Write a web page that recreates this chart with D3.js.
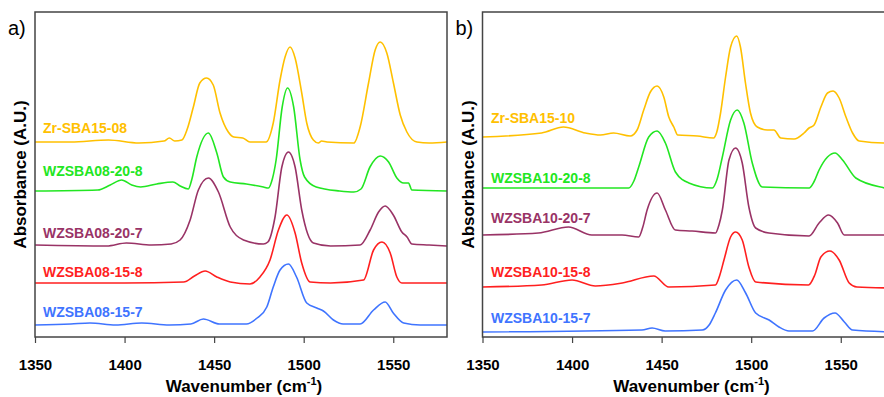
<!DOCTYPE html>
<html>
<head>
<meta charset="utf-8">
<script src="https://cdn.jsdelivr.net/npm/d3@7"></script>
<style>
  body { margin: 0; background: #fff; }
  svg { display: block; }
</style>
</head>
<body>
<svg id="chart" width="884" height="397"></svg>
<script>
// wavenumber ticks shared by both panels
const wnTicks = [1350, 1400, 1450, 1500, 1550];
const wnDomain = [1350, 1580];

// panel a) — [wavenumber, absorbance (offset, A.U.)]
const namesA = ['Zr-SBA15-08', 'WZSBA08-20-8', 'WZSBA08-20-7', 'WZSBA08-15-8', 'WZSBA08-15-7'];

const zrSBA1508 = [[1350,1.95],[1370,1.95],[1391,1.97],[1408,1.94],[1422,1.96],[1425,1.99],[1428,1.96],[1432,1.97],
  [1435,2.08],[1438.4,2.30],[1442,2.54],[1445.8,2.59],[1449.5,2.52],[1453.3,2.24],[1457.9,2.05],[1461,2.00],[1466,1.99],
  [1470,1.95],[1479,1.95],[1483,2.14],[1486.8,2.57],[1489.6,2.80],[1492.4,2.90],[1495.2,2.79],[1498.9,2.44],
  [1501.7,2.14],[1505.4,1.97],[1508.2,1.94],[1510,1.96],[1513,1.95],[1528,1.94],[1531.5,2.10],[1536.2,2.54],
  [1539.9,2.87],[1542.7,2.95],[1546.4,2.84],[1550.1,2.54],[1553.9,2.22],[1557.6,2.05],[1563.2,1.95],[1570,1.94],[1580,1.95]];

const wzsba08_20_8 = [[1350,1.46],[1385,1.47],[1392,1.52],[1398.4,1.57],[1404,1.52],[1409,1.50],[1418,1.53],[1427,1.55],
  [1431,1.51],[1435.6,1.48],[1437.6,1.58],[1440.3,1.80],[1446.8,2.04],[1451.5,1.84],[1455.2,1.60],[1459,1.55],[1468,1.53],
  [1477.5,1.50],[1480.3,1.49],[1482.5,1.58],[1484.6,1.77],[1488,2.30],[1491,2.49],[1494.4,2.30],[1498,1.77],[1500.5,1.60],
  [1507,1.50],[1520,1.46],[1528,1.45],[1532,1.48],[1537,1.70],[1542.7,1.81],[1547.4,1.75],[1552,1.59],[1555.8,1.54],
  [1558.5,1.54],[1560.4,1.47],[1580,1.46]];

const wzsba08_20_7 = [[1350,0.92],[1390,0.91],[1401,0.94],[1415,0.92],[1426,0.93],[1431,0.97],[1436.6,1.17],[1441.2,1.47],
  [1446.8,1.59],[1452.4,1.45],[1459,1.10],[1466.4,0.97],[1477.5,0.93],[1480,0.95],[1484,1.20],[1487.8,1.70],[1491.5,1.85],
  [1495.2,1.70],[1498.9,1.27],[1505.4,0.94],[1515,0.91],[1531.5,0.92],[1537.1,1.07],[1541.8,1.25],[1545.5,1.31],[1550,1.22],
  [1554.8,1.05],[1557.7,1.00],[1560.4,0.93],[1570,0.92],[1580,0.91]];

const wzsba08_15_8 = [[1350,0.54],[1400,0.54],[1433,0.55],[1439,0.61],[1445,0.66],[1451.5,0.60],[1459,0.55],[1470,0.53],
  [1475.6,0.60],[1481.2,0.77],[1485.9,1.07],[1490.6,1.22],[1495.2,1.04],[1498.9,0.74],[1503.6,0.55],[1515,0.54],
  [1533.4,0.57],[1539,0.87],[1543.7,0.95],[1548.3,0.84],[1552,0.60],[1554.8,0.54],[1580,0.54]];

const wzsba08_15_7 = [[1350,0.12],[1370,0.13],[1380.7,0.14],[1395,0.12],[1409.6,0.14],[1425,0.12],[1437,0.13],[1444,0.18],
  [1453,0.13],[1468,0.13],[1474,0.19],[1479.4,0.30],[1483,0.50],[1486.8,0.67],[1491.5,0.73],[1496,0.60],[1501.7,0.34],
  [1507.3,0.29],[1511,0.26],[1516.6,0.17],[1522,0.13],[1531.5,0.13],[1539,0.27],[1545.5,0.35],[1550,0.24],[1555.8,0.14],
  [1565,0.12],[1580,0.12]];

// panel b)
const namesB = ['Zr-SBA15-10', 'WZSBA10-20-8', 'WZSBA10-20-7', 'WZSBA10-15-8', 'WZSBA10-15-7'];

const zrSBA1510 = [[1350,2.00],[1383,2.04],[1395.2,2.10],[1407.4,2.04],[1415.8,2.02],[1423.2,2.04],[1432.5,2.01],[1436.3,2.07],
  [1440,2.27],[1443.7,2.45],[1447.5,2.51],[1451.2,2.40],[1454,2.20],[1456.8,2.10],[1459,2.02],[1470,2.01],[1479,1.99],
  [1480.8,2.05],[1482.9,2.24],[1485.7,2.60],[1488.5,2.90],[1491.9,3.01],[1494,2.90],[1496.8,2.54],[1499.6,2.24],
  [1503.4,2.10],[1509,2.07],[1512.7,2.07],[1516.5,1.99],[1523.9,1.98],[1529.5,2.04],[1532.3,2.09],[1535.1,2.12],
  [1538.9,2.30],[1542.6,2.44],[1545.7,2.46],[1549.1,2.39],[1552.9,2.20],[1556.6,2.04],[1560.3,1.96],[1574,1.94],[1580,1.94]];

const wzsba10_20_8 = [[1350,1.49],[1431.6,1.49],[1434.5,1.56],[1437.2,1.70],[1442.8,2.00],[1447.5,2.06],[1452.1,1.94],
  [1457.7,1.65],[1465.2,1.54],[1478.3,1.49],[1481,1.58],[1483.9,1.80],[1488.5,2.17],[1492.2,2.27],[1495.9,2.14],
  [1500.6,1.74],[1506.2,1.50],[1532.3,1.49],[1535,1.55],[1537.9,1.67],[1542.6,1.80],[1546.8,1.84],[1551,1.77],
  [1558.4,1.59],[1574.6,1.49],[1580,1.47]];

const wzsba10_20_7 = [[1350,1.02],[1381.2,1.04],[1398,1.10],[1411,1.02],[1427.9,1.02],[1437.2,1.00],[1439.5,1.10],
  [1441.9,1.27],[1447.5,1.44],[1452.1,1.27],[1457.7,1.07],[1467,1.06],[1480.1,1.04],[1482,1.12],[1483.9,1.27],
  [1487.6,1.77],[1491.3,1.89],[1495,1.74],[1498.7,1.30],[1502.5,1.09],[1509.9,1.04],[1532.3,1.01],[1537.9,1.14],
  [1543.2,1.22],[1548.2,1.14],[1552,1.02],[1580,1.02]];

const wzsba10_15_8 = [[1350,0.50],[1383,0.52],[1400,0.57],[1413,0.51],[1428,0.54],[1445.6,0.61],[1454,0.50],[1480,0.52],
  [1482.5,0.62],[1484.8,0.77],[1488.5,1.00],[1491.3,1.05],[1495,0.97],[1498.7,0.70],[1502.5,0.55],[1532,0.52],
  [1535.5,0.62],[1538.9,0.80],[1543.9,0.86],[1549.1,0.77],[1554.7,0.54],[1559,0.50],[1580,0.49]];

const wzsba10_15_7 = [[1350,0.05],[1439,0.07],[1444.7,0.09],[1452,0.06],[1472.7,0.07],[1476.5,0.12],[1480,0.24],[1485.7,0.47],
  [1491.9,0.57],[1496.9,0.44],[1502.5,0.24],[1510,0.17],[1515.5,0.10],[1521.1,0.06],[1534.2,0.06],[1540.7,0.19],
  [1546.8,0.24],[1552,0.15],[1556.6,0.07],[1580,0.05]];

const seriesColors = ['#ffc000', '#22e622', '#993366', '#ff1f1f', '#3f74ff'];

const panels = [
  { tag: 'a)', left: 35, names: namesA, data: [zrSBA1508, wzsba08_20_8, wzsba08_20_7, wzsba08_15_8, wzsba08_15_7],
    labelY: [133, 176, 238, 277, 317], labelX: 43 },
  { tag: 'b)', left: 482.5, names: namesB, data: [zrSBA1510, wzsba10_20_8, wzsba10_20_7, wzsba10_15_8, wzsba10_15_7],
    labelY: [123, 183, 223, 277, 323], labelX: 491 }
];

const font = 'Arial, "Liberation Sans", sans-serif';
const plotTop = 12, plotBottom = 337, plotW = 412;

const svg = d3.select('#chart').style('font-family', font);

panels.forEach(p => {
  const x = d3.scaleLinear().domain(wnDomain).range([p.left, p.left + plotW]);
  const y = d3.scaleLinear().domain([0, 3.25]).range([plotBottom, plotTop]);

  const g = svg.append('g');

  const line = d3.line()
    .curve(d3.curveMonotoneX)
    .x(d => x(d[0]))
    .y(d => y(d[1]));

  g.selectAll('path.spec')
    .data(p.data)
    .enter().append('path')
      .attr('class', 'spec')
      .attr('fill', 'none')
      .attr('stroke', (d, i) => seriesColors[i])
      .attr('stroke-width', 1.6)
      .attr('stroke-linejoin', 'round')
      .attr('d', line);

  g.selectAll('text.lbl')
    .data(p.names)
    .enter().append('text')
      .attr('class', 'lbl')
      .attr('x', p.labelX)
      .attr('y', (d, i) => p.labelY[i])
      .attr('fill', (d, i) => seriesColors[i])
      .style('font-size', '14px')
      .style('font-weight', 'bold')
      .text(d => d);

  // frame
  g.append('rect')
    .attr('x', p.left)
    .attr('y', plotTop)
    .attr('width', plotW)
    .attr('height', plotBottom - plotTop)
    .attr('fill', 'none')
    .attr('stroke', '#444')
    .attr('stroke-width', 1.5);

  // x axis
  const ax = g.append('g')
    .attr('transform', 'translate(0,' + plotBottom + ')')
    .call(d3.axisBottom(x).tickValues(wnTicks).tickSize(6).tickSizeOuter(0).tickFormat(d3.format('d')));
  ax.select('.domain').remove();
  ax.selectAll('.tick line').attr('stroke', '#444').attr('stroke-width', 1.2);
  ax.selectAll('.tick text')
    .attr('y', 22)
    .attr('fill', '#000')
    .style('font-size', '15px')
    .style('font-weight', 'bold')
    .style('font-family', font);

  // x title
  const xt = g.append('text')
    .attr('x', p.left + 209)
    .attr('y', 392)
    .attr('text-anchor', 'middle')
    .style('font-size', '17px')
    .style('font-weight', 'bold');
  xt.append('tspan').text('Wavenumber (cm');
  xt.append('tspan').attr('dy', -7).style('font-size', '11px').text('-1');
  xt.append('tspan').attr('dy', 7).text(')');

  // y title
  g.append('text')
    .attr('transform', 'translate(' + (p.left - 9) + ',' + ((plotTop + plotBottom) / 2) + ') rotate(-90)')
    .attr('text-anchor', 'middle')
    .style('font-size', '17px')
    .style('font-weight', 'bold')
    .text('Absorbance (A.U.)');

  // panel tag
  g.append('text')
    .attr('x', p.left - 27)
    .attr('y', 35)
    .style('font-size', '20px')
    .text(p.tag);
});
</script>
</body>
</html>
